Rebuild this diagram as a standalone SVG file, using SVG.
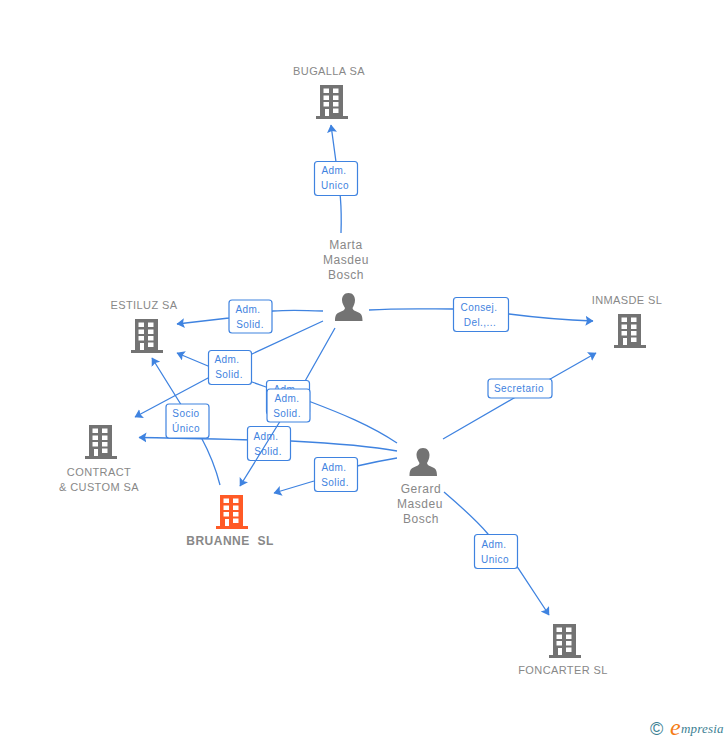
<svg xmlns="http://www.w3.org/2000/svg" width="728" height="740" viewBox="0 0 728 740">
<style>
text{font-family:"Liberation Sans",Arial,sans-serif}
.n{font-size:11px;fill:#888;text-anchor:middle;letter-spacing:.4px}
.p{font-size:12px;fill:#888;text-anchor:middle;letter-spacing:.55px}
.c{fill:none;stroke:#3f83e0;stroke-width:1.3}
.b{fill:#fff;stroke:#3f83e0;stroke-width:1.2}
.l{font-size:10px;fill:#3f83e0;text-anchor:middle;letter-spacing:.45px}
</style>
<defs>
<g id="bld"><path fill-rule="evenodd" d="M4 0H27V31H32V34H0V31H4ZM7.500 3.500V8H13V3.500ZM17 3.500V8H22.500V3.500ZM7.500 10.500V15H13V10.500ZM17 10.500V15H22.500V10.500ZM7.500 17V21.500H13V17ZM17 17V21.500H22.500V17ZM9 24V31H13V24ZM17 23.500V28H22.500V23.500Z"/></g>
<g id="per"><path d="M13.500 0C18 0 20 3.500 20 7C20 10.500 18.500 13 17.500 15C17.500 17 20 18 23 19.300C26 20.500 27.500 22 27.500 28H0C0 22 1.500 20.500 4.500 19.300C7.500 18 10 17 10 15C9 13 7 10.500 7 7C7 3.500 9 0 13.500 0Z" fill="#737373"/></g>
<marker id="a" markerWidth="11" markerHeight="11" refX="7.500" refY="5" orient="auto" markerUnits="userSpaceOnUse"><path d="M0 0L8 5L0 10L1.500 5Z" fill="#3f83e0"/></marker>
</defs>
<g id="connectors">
<path class="c" marker-end="url(#a)" d="M341 233C342 205 340 190 336 162L331 125"/>
<path class="c" marker-end="url(#a)" d="M323 311C300 310 285 310 273 311L229 318L177 324"/>
<path class="c" marker-end="url(#a)" d="M323 321L252 354L208 378L135 417"/>
<path class="c" marker-end="url(#a)" d="M397 443C370 425 340 413 311 402L266 387L252 382L208 366L177 353"/>
<path class="c" marker-end="url(#a)" d="M369 310C400 308 430 309 453 309L509 314C540 318 565 320 593 321"/>
<path class="c" marker-end="url(#a)" d="M443 439L514 398L552 378L596 353"/>
<path class="c" marker-end="url(#a)" d="M397 451C370 446 330 443 291 441C240 440 190 438 139 437.500"/>
<path class="c" marker-end="url(#a)" d="M397 458C385 460 370 463 357 466L314 481L274 493"/>
<path class="c" marker-end="url(#a)" d="M220 485C215 465 208 450 201 437L180 403L152 358"/>
<path class="c" marker-end="url(#a)" d="M444 492C465 510 478 522 488 534L518 568L549 615"/>
</g>
<g id="edge-label-contract"><rect class="b" x="247.500" y="426.500" width="43" height="34" rx="3"/><text class="l" x="266" y="440">Adm.</text><text class="l" x="268" y="455">Solid.</text></g>
<g id="connector-over"><path class="c" marker-end="url(#a)" d="M335 328L300 390L279 423L240 486"/></g>
<g id="edge-labels">
<g><rect class="b" x="314.500" y="161.500" width="43" height="34" rx="3"/><text class="l" x="334" y="174">Adm.</text><text class="l" x="335" y="189">Unico</text></g>
<g><rect class="b" x="229" y="300" width="43" height="33" rx="3"/><text class="l" x="248" y="313">Adm.</text><text class="l" x="250" y="328">Solid.</text></g>
<g><rect class="b" x="208.500" y="350.500" width="43" height="34" rx="3"/><text class="l" x="227" y="363">Adm.</text><text class="l" x="229" y="378">Solid.</text></g>
<g><rect class="b" x="266.500" y="380.500" width="43" height="34" rx="3"/><text class="l" x="286" y="393">Adm.</text></g>
<g><rect class="b" x="267" y="389" width="43" height="33" rx="3"/><text class="l" x="287" y="402">Adm.</text><text class="l" x="287" y="417">Solid.</text></g>
<g><rect class="b" x="166" y="404" width="43" height="34" rx="3"/><text class="l" x="186" y="417">Socio</text><text class="l" x="186" y="432">Único</text></g>
<g><rect class="b" x="314.500" y="457.500" width="43" height="34" rx="3"/><text class="l" x="334" y="471">Adm.</text><text class="l" x="335" y="486">Solid.</text></g>
<g><rect class="b" x="453.500" y="297.500" width="55" height="34" rx="3"/><text class="l" x="479" y="311">Consej.</text><text class="l" x="480" y="326">Del.,...</text></g>
<g><rect class="b" x="488" y="379" width="64" height="19" rx="3"/><text class="l" x="519" y="392">Secretario</text></g>
<g><rect class="b" x="474.500" y="534.500" width="43" height="34" rx="3"/><text class="l" x="494" y="548">Adm.</text><text class="l" x="495" y="563">Unico</text></g>
</g>
<g id="bugalla"><use href="#bld" x="316" y="85" fill="#737373"/><text class="n" x="329" y="75">BUGALLA SA</text></g>
<g id="estiluz"><use href="#bld" x="131" y="319" fill="#737373"/><text class="n" x="144" y="309">ESTILUZ SA</text></g>
<g id="inmasde"><use href="#bld" x="614" y="314" fill="#737373"/><text class="n" x="627" y="304">INMASDE SL</text></g>
<g id="contract"><use href="#bld" x="85" y="425" fill="#737373"/><text class="n" x="99" y="476">CONTRACT</text><text class="n" x="99" y="491">&amp; CUSTOM SA</text></g>
<g id="bruanne"><use href="#bld" x="216" y="495" fill="#ff5a26"/><text class="n" x="230" y="545" style="font-weight:bold;font-size:12px;letter-spacing:.5px" xml:space="preserve">BRUANNE  SL</text></g>
<g id="foncarter"><use href="#bld" x="549" y="624" fill="#737373"/><text class="n" x="563" y="674">FONCARTER SL</text></g>
<g id="marta"><use href="#per" x="335" y="293"/><text class="p" x="346" y="249">Marta</text><text class="p" x="346" y="264">Masdeu</text><text class="p" x="346" y="279">Bosch</text></g>
<g id="gerard"><use href="#per" x="409.500" y="448"/><text class="p" x="421" y="493">Gerard</text><text class="p" x="420" y="508">Masdeu</text><text class="p" x="421" y="523">Bosch</text></g>
<g id="brand"><text x="650" y="735" font-size="18" fill="#3c7f93">©</text><text x="670" y="735" font-size="24" fill="#f57c14" style="font-family:'Liberation Serif',serif;font-style:italic">e</text><text x="681" y="733" font-size="13" fill="#3c7f93" style="font-family:'Liberation Serif',serif;font-style:italic;letter-spacing:.2px">mpresia</text></g>
</svg>
